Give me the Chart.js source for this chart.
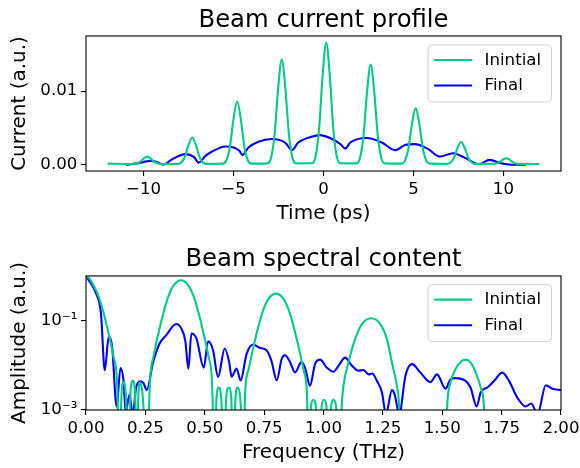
<!DOCTYPE html>
<html>
<head>
<meta charset="utf-8">
<script src="https://cdn.jsdelivr.net/npm/chart.js@4.4.1/dist/chart.umd.min.js"></script>
<style>
    html, body { margin: 0; padding: 0; background: #fff; }
    #wrap { position: relative; width: 580px; height: 468px; }
    canvas { position: absolute; left: 0; }
    #profileChart { top: 0; }
    #spectrumChart { top: 234px; }
</style>
</head>
<body>
<div id="wrap">
    <canvas id="profileChart" width="580" height="234"></canvas>
    <canvas id="spectrumChart" width="580" height="234"></canvas>
</div>
<script>
/* ── Data: beam current profile ── */
const initialTime = [
    -12, -10.6, -10.4, -10.2, -10.0, -9.8, -9.6, -9.4, -9.2, -9.0,
    -8.1, -7.9, -7.7, -7.5, -7.3, -7.1, -6.9, -6.7, -6.5,
    -5.6, -5.4, -5.2, -5.0, -4.8, -4.6, -4.4, -4.2, -4.0,
    -3.12, -2.92, -2.72, -2.52, -2.32, -2.12, -1.92, -1.72, -1.52,
    -0.65, -0.45, -0.25, -0.05, 0.15, 0.35, 0.55, 0.75, 0.95,
    1.82, 2.02, 2.22, 2.42, 2.62, 2.82, 3.02, 3.22, 3.42,
    4.32, 4.52, 4.72, 4.92, 5.12, 5.32, 5.52, 5.72, 5.92,
    6.85, 7.05, 7.25, 7.45, 7.65, 7.85, 8.05, 8.25, 8.45,
    9.55, 9.75, 9.95, 10.15, 10.35, 10.55, 10.75,
    12
];
const initialCurrent = [
    0.00015, 0.0001, 0.00016, 0.00038, 0.00083, 0.0011, 0.00083, 0.00038, 0.00016, 0.0001,
    0.00012, 0.0003, 0.0011, 0.00271, 0.0037, 0.00271, 0.0011, 0.0003, 0.00012,
    0.00015, 0.00058, 0.00246, 0.00627, 0.0086, 0.00627, 0.00246, 0.00058, 0.00015,
    0.00019, 0.0009, 0.00405, 0.01041, 0.0143, 0.01041, 0.00405, 0.0009, 0.00019,
    0.0002, 0.00102, 0.00469, 0.01208, 0.0166, 0.01208, 0.00469, 0.00102, 0.0002,
    0.00018, 0.00086, 0.00385, 0.0099, 0.0136, 0.0099, 0.00385, 0.00086, 0.00018,
    0.00015, 0.00053, 0.00221, 0.00562, 0.0077, 0.00562, 0.00221, 0.00053, 0.00015,
    0.00012, 0.00027, 0.00093, 0.00228, 0.0031, 0.00228, 0.00093, 0.00027, 0.00012,
    0.00014, 0.00032, 0.00067, 0.00088, 0.00067, 0.00032, 0.00014,
    0.0001
];
const finalTime = [
    -10.98, -10.42, -9.6, -9.23, -8.92, -8.41, -7.67, -7.21, -6.93, -6.56,
    -6.19, -5.45, -4.99, -4.68, -4.5, -4.17, -3.62, -2.88, -2.14, -1.74,
    -1.4, -0.67, -0.2, 0.48, 0.94, 1.21, 1.49, 2.41, 3.24, 3.98,
    4.53, 5.08, 5.82, 6.46, 7.2, 7.84, 8.62, 9.23, 9.87, 10.42, 11.25
];
const finalCurrent = [
    0, 0.00015, 0.00052, 0.00034, 0, 0.00075, 0.00144, 0.00107, 0.00029, 0.0012,
    0.0018, 0.00248, 0.00234, 0.00189, 0.00134, 0.00234, 0.00312, 0.00349, 0.00302, 0.00202,
    0.00302, 0.0038, 0.00402, 0.00349, 0.0028, 0.0022, 0.00302, 0.00363, 0.00302, 0.00198,
    0.00267, 0.0028, 0.00212, 0.00111, 0.00157, 0.00097, 0.00007, 0.00066, 0.0002, 0, 0
];
const timeTicks = [-10, -5, 0, 5, 10];
const timeTickLabels = ['\u221210', '\u22125', '0', '5', '10'];
const currentTicks = [0, 0.01];
const currentTickLabels = ['0.00', '0.01'];

/* ── Data: beam spectral content ── */
const initialFreq = [
    0, 0.017, 0.031, 0.052, 0.073, 0.094, 0.115, 0.130, 0.141,
    0.150, 0.158, 0.167, 0.179, 0.188, 0.197, 0.206, 0.214, 0.221, 0.228, 0.237, 0.257,
    0.270, 0.285, 0.306, 0.327, 0.348, 0.369, 0.400, 0.431, 0.452, 0.473, 0.494, 0.515, 0.530, 0.541,
    0.550, 0.559, 0.569, 0.580, 0.591, 0.601, 0.611, 0.620, 0.630, 0.639, 0.649, 0.664,
    0.670, 0.685, 0.706, 0.727, 0.748, 0.769, 0.800, 0.831, 0.852, 0.873, 0.894, 0.915, 0.930, 0.938,
    0.948, 0.957, 0.967, 0.981, 0.993, 1.003, 1.012, 1.022, 1.033, 1.042, 1.052, 1.066,
    1.078, 1.084, 1.105, 1.133, 1.162, 1.201, 1.239, 1.267, 1.288, 1.309, 1.317, 1.325,
    1.512, 1.522, 1.535, 1.556, 1.577, 1.598, 1.619, 1.641, 1.662, 1.675, 1.685,
    2.0
];
const initialAmp = [
    1.0, 0.87, 0.63, 0.37, 0.158, 0.055, 0.0166, 0.0049, 0.0001,
    0.0025, 0.0042, 0.0025, 0.0001, 0.0028, 0.0045, 0.0028, 0.0001, 0.0026, 0.0042, 0.0026, 0.0001,
    0.0049, 0.0166, 0.055, 0.158, 0.37, 0.63, 0.82, 0.63, 0.37, 0.158, 0.055, 0.0166, 0.0049, 0.0001,
    0.002, 0.0032, 0.002, 0.0001, 0.002, 0.0032, 0.002, 0.0001, 0.002, 0.0032, 0.002, 0.0001,
    0.00245, 0.0083, 0.0275, 0.079, 0.186, 0.316, 0.41, 0.316, 0.186, 0.079, 0.0275, 0.0083, 0.00245, 0.0001,
    0.0013, 0.0017, 0.0013, 0.0001, 0.0013, 0.0017, 0.0013, 0.0001, 0.0013, 0.0017, 0.0013, 0.0001,
    0.0016, 0.0035, 0.0117, 0.039, 0.085, 0.115, 0.085, 0.039, 0.0117, 0.0035, 0.0016, 0.0001,
    0.0001, 0.0016, 0.0042, 0.0083, 0.012, 0.0135, 0.0117, 0.0069, 0.0032, 0.0014, 0.0001,
    0.0001
];
const finalFreq = [
    0, 0.042, 0.063, 0.079, 0.096, 0.110, 0.129, 0.145, 0.158, 0.167,
    0.183, 0.197, 0.211, 0.228, 0.242, 0.256, 0.281, 0.310, 0.338, 0.380,
    0.401, 0.418, 0.431, 0.444, 0.465, 0.496, 0.514, 0.535, 0.556, 0.584,
    0.603, 0.613, 0.634, 0.651, 0.676, 0.704, 0.730, 0.760, 0.781, 0.803,
    0.824, 0.838, 0.859, 0.880, 0.908, 0.925, 0.943, 0.965, 0.986, 1.014,
    1.042, 1.063, 1.091, 1.119, 1.147, 1.168, 1.190, 1.205, 1.225, 1.246,
    1.263, 1.288, 1.300, 1.319, 1.345, 1.373, 1.408, 1.450, 1.478, 1.514,
    1.535, 1.556, 1.598, 1.619, 1.645, 1.662, 1.690, 1.718, 1.753, 1.781,
    1.816, 1.851, 1.875, 1.901, 1.936, 1.964, 2.0
];
const finalAmp = [
    1.0, 0.42, 0.148, 0.0078, 0.045, 0.026, 0.0012, 0.0087, 0.0046, 0.0009,
    0.0022, 0.0008, 0.0032, 0.0044, 0.004, 0.0028, 0.011, 0.031, 0.048, 0.085,
    0.068, 0.036, 0.0085, 0.052, 0.04, 0.0089, 0.035, 0.022, 0.0055, 0.024,
    0.0118, 0.0056, 0.0085, 0.0046, 0.018, 0.0295, 0.025, 0.022, 0.0126, 0.0046,
    0.014, 0.017, 0.012, 0.007, 0.012, 0.0079, 0.0035, 0.011, 0.0135, 0.0089,
    0.0072, 0.0098, 0.015, 0.01, 0.0076, 0.0079, 0.0063, 0.0066, 0.0045, 0.0025,
    0.0008, 0.0028, 0.0022, 0.0008, 0.0059, 0.0107, 0.0069, 0.0042, 0.0063, 0.003,
    0.0049, 0.0052, 0.0045, 0.0032, 0.0012, 0.0025, 0.0032, 0.0045, 0.0069, 0.0045,
    0.0019, 0.0012, 0.0014, 0.0008, 0.0036, 0.003, 0.0028
];
const freqTicks = [0, 0.25, 0.5, 0.75, 1.0, 1.25, 1.5, 1.75, 2.0];
const freqTickLabels = ['0.00', '0.25', '0.50', '0.75', '1.00', '1.25', '1.50', '1.75', '2.00'];
const ampTicks = [0.001, 0.1];
const ampTickLabels = ['10\u207B\u00B3', '10\u207B\u00B9'];

const seriesNames = ['Inintial', 'Final'];
const seriesColors = ['#00cc88', '#0000ff'];

/* ── Shared look ── */
const FONT = 'DejaVu Sans';
Chart.defaults.font.family = FONT;
Chart.defaults.color = '#000';

const toPoints = (xs, ys) => xs.map((x, i) => ({ x: x, y: ys[i] }));

// black box round the plot area, like matplotlib spines
const framePlugin = {
    id: 'frame',
    afterDatasetsDraw(chart) {
        const { ctx, chartArea: a } = chart;
        ctx.save();
        ctx.strokeStyle = '#000';
        ctx.lineWidth = 1.1;
        ctx.strokeRect(a.left, a.top, a.right - a.left, a.bottom - a.top);
        ctx.restore();
    }
};

// legend inside the upper right corner with a rounded grey frame
const boxLegendPlugin = {
    id: 'boxLegend',
    afterDraw(chart, args, opts) {
        const { ctx, chartArea: a } = chart;
        const w = 123.4, h = 57;
        const x0 = a.right - 9.5 - w;
        const y0 = a.top + opts.top;
        ctx.save();
        ctx.beginPath();
        ctx.roundRect(x0, y0, w, h, 4);
        ctx.fillStyle = 'rgba(255,255,255,0.8)';
        ctx.fill();
        ctx.strokeStyle = '#d0d0d0';
        ctx.lineWidth = 1;
        ctx.stroke();
        chart.data.datasets.forEach((ds, i) => {
            const y = y0 + 15 + 25.6 * i;
            ctx.beginPath();
            ctx.moveTo(x0 + 6, y);
            ctx.lineTo(x0 + 44, y);
            ctx.strokeStyle = ds.borderColor;
            ctx.lineWidth = 2.1;
            ctx.stroke();
            ctx.fillStyle = '#000';
            ctx.font = `16.6px "${FONT}"`;
            ctx.textBaseline = 'middle';
            ctx.textAlign = 'left';
            ctx.fillText(ds.label, x0 + 56.5, y + 0.5);
        });
        ctx.restore();
    }
};

function fixAxis(size) {
    return (scale) => {
        if (scale.isHorizontal()) scale.height = size;
        else scale.width = size;
        scale.paddingLeft = scale.paddingRight = 0;
        scale.paddingTop = scale.paddingBottom = 0;
    };
}

function setTicks(values) {
    return (scale) => { scale.ticks = values.map(v => ({ value: v })); };
}

function axisGrid() {
    return { display: true, drawOnChartArea: false, drawTicks: true, tickLength: 5, color: '#000', lineWidth: 1.1 };
}

function makeDatasets(xa, ya, xb, yb) {
    return [
        { label: seriesNames[0], data: toPoints(xa, ya), borderColor: seriesColors[0], borderWidth: 2.1,
          pointRadius: 0, fill: false, cubicInterpolationMode: 'monotone' },
        { label: seriesNames[1], data: toPoints(xb, yb), borderColor: seriesColors[1], borderWidth: 2.1,
          pointRadius: 0, fill: false, cubicInterpolationMode: 'monotone' }
    ];
}

function buildChart(canvasId, cfg) {
    return new Chart(document.getElementById(canvasId), {
        type: 'line',
        data: { datasets: cfg.datasets },
        options: {
            responsive: false,
            animation: false,
            events: [],
            layout: { padding: { left: 0, right: 19, top: 0, bottom: 0 } },
            scales: {
                x: {
                    type: 'linear',
                    min: cfg.xMin, max: cfg.xMax,
                    grid: axisGrid(),
                    border: { display: false },
                    afterBuildTicks: setTicks(cfg.xTicks),
                    afterFit: fixAxis(cfg.xAxisHeight),
                    ticks: {
                        autoSkip: false, maxRotation: 0, padding: 4,
                        font: { size: 16.6 },
                        callback: (v, i) => cfg.xLabels[i]
                    },
                    title: {
                        display: true, text: cfg.xTitle,
                        font: { size: 20 },
                        padding: { top: 0, bottom: cfg.xTitlePad }
                    }
                },
                y: {
                    type: cfg.yType,
                    min: cfg.yMin, max: cfg.yMax,
                    grid: axisGrid(),
                    border: { display: false },
                    afterBuildTicks: setTicks(cfg.yTicks),
                    afterFit: fixAxis(86),
                    ticks: {
                        autoSkip: false, padding: 3.7,
                        font: { size: 16.6 },
                        callback: (v, i) => cfg.yLabels[i]
                    },
                    title: {
                        display: true, text: cfg.yTitle,
                        font: { size: 20 },
                        padding: { top: 8, bottom: 0 }
                    }
                }
            },
            plugins: {
                legend: { display: false },
                tooltip: { enabled: false },
                title: {
                    display: true, text: cfg.title,
                    fullSize: false,
                    font: { size: 24.3, weight: 'normal', lineHeight: 1.2 },
                    padding: cfg.titlePad
                },
                boxLegend: { top: cfg.legendTop }
            }
        },
        plugins: [framePlugin, boxLegendPlugin]
    });
}

// Top: current profile
buildChart('profileChart', {
    datasets: makeDatasets(initialTime, initialCurrent, finalTime, finalCurrent),
    title: 'Beam current profile',
    titlePad: { top: 6.5, bottom: 0.3 },
    xMin: -13.2, xMax: 13.2, xTicks: timeTicks, xLabels: timeTickLabels,
    xTitle: 'Time (ps)', xTitlePad: 7.9, xAxisHeight: 63,
    yType: 'linear', yMin: -0.00085, yMax: 0.0175, yTicks: currentTicks, yLabels: currentTickLabels,
    yTitle: 'Current (a.u.)',
    legendTop: 9
});

// Bottom: spectral content (log amplitude)
buildChart('spectrumChart', {
    datasets: makeDatasets(initialFreq, initialAmp, finalFreq, finalAmp),
    title: 'Beam spectral content',
    titlePad: { top: 10.9, bottom: 1.9 },
    xMin: 0, xMax: 2, xTicks: freqTicks, xLabels: freqTickLabels,
    xTitle: 'Frequency (THz)', xTitlePad: 2.9, xAxisHeight: 58,
    yType: 'logarithmic', yMin: 0.001, yMax: 1.02, yTicks: ampTicks, yLabels: ampTickLabels,
    yTitle: 'Amplitude (a.u.)',
    legendTop: 8.7
});
</script>
</body>
</html>
